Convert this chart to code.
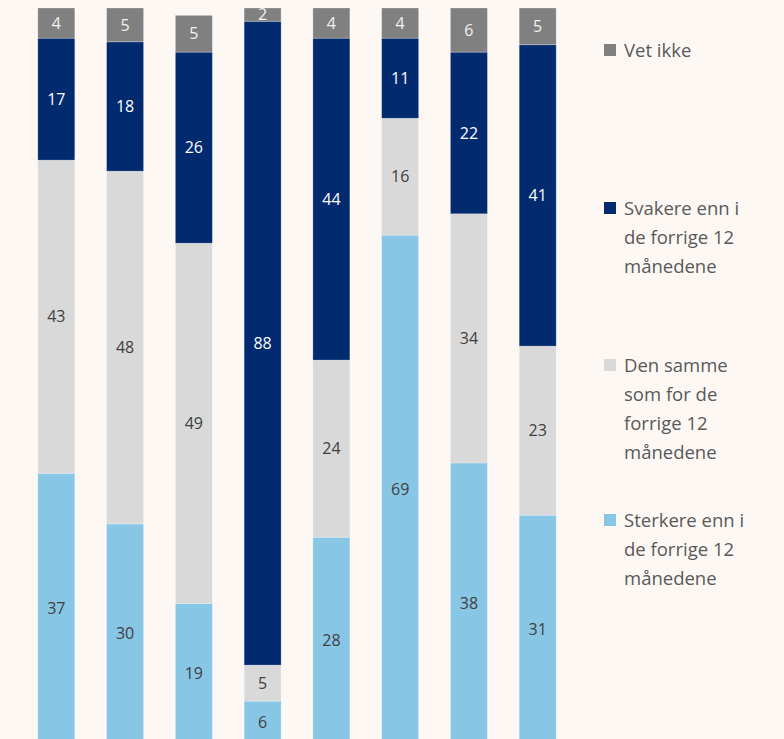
<!DOCTYPE html>
<html>
<head>
<meta charset="utf-8">
<script src="https://cdn.jsdelivr.net/npm/d3@7"></script>
<style>
    html, body {
        margin: 0;
        padding: 0;
        background: #fdf8f4;
    }
    svg {
        display: block;
        font-family: "Open Sans", "Noto Sans", sans-serif;
    }
</style>
</head>
<body>
<div id="chart"></div>
<script>
// one entry per bar, left to right
const bars = ["1", "2", "3", "4", "5", "6", "7", "8"];

// series, bottom to top in the stack (shares in %, labels are rounded)
const sterkere = [36.7, 29.8, 19.0, 5.7, 28.0, 69.1, 38.1, 31.0];
const samme = [42.6, 48.0, 49.0, 4.9, 24.1, 15.9, 33.9, 23.0];
const svakere = [16.6, 17.6, 26.0, 87.6, 43.8, 10.9, 22.0, 41.0];
const vetIkke = [4.1, 4.6, 5.0, 1.8, 4.1, 4.1, 6.0, 5.0];

const seriesKeys = ["sterkere", "samme", "svakere", "vetIkke"];
const seriesColors = {
    sterkere: "#88c6e5",
    samme: "#d9d9d9",
    svakere: "#022a6f",
    vetIkke: "#808080"
};
const labelColors = {
    sterkere: "#404040",
    samme: "#404040",
    svakere: "#ffffff",
    vetIkke: "#f2f2f2"
};

// legend, top to bottom
const legendItems = [
    {key: "vetIkke", lines: ["Vet ikke"]},
    {key: "svakere", lines: ["Svakere enn i", "de forrige 12", "månedene"]},
    {key: "samme", lines: ["Den samme", "som for de", "forrige 12", "månedene"]},
    {key: "sterkere", lines: ["Sterkere enn i", "de forrige 12", "månedene"]}
];

const width = 784,
    height = 739,
    margin = {top: 8, right: 200, bottom: -4, left: 20};

const data = bars.map((b, i) => ({
    bar: b,
    sterkere: sterkere[i],
    samme: samme[i],
    svakere: svakere[i],
    vetIkke: vetIkke[i]
}));

const stacked = d3.stack().keys(seriesKeys)(data);

const xScale = d3
    .scaleBand()
    .domain(bars)
    .range([22, 572])
    .paddingInner(0.462)
    .paddingOuter(0.23);

const yScale = d3
    .scaleLinear()
    .domain([0, 100])
    .range([height - margin.bottom, margin.top]);

const fmt = d3.format(".0f");

const svg = d3
    .select("#chart")
    .append("svg")
    .attr("width", width)
    .attr("height", height)
    .attr("viewBox", [0, 0, width, height]);

svg.append("rect")
    .attr("width", width)
    .attr("height", height)
    .attr("fill", "#fdf8f4");

const layer = svg
    .selectAll("g.layer")
    .data(stacked)
    .join("g")
    .attr("class", "layer")
    .attr("fill", (d) => seriesColors[d.key]);

layer
    .selectAll("rect")
    .data((d) => d)
    .join("rect")
    .attr("x", (d) => xScale(d.data.bar))
    .attr("y", (d) => yScale(d[1]))
    .attr("width", xScale.bandwidth())
    .attr("height", (d) => yScale(d[0]) - yScale(d[1]))
    .attr("stroke", "#ffffff")
    .attr("stroke-opacity", 0.35)
    .attr("stroke-width", 0.75);

// value labels in the middle of each segment
stacked.forEach((s) => {
    svg.append("g")
        .selectAll("text")
        .data(s)
        .join("text")
        .attr("x", (d) => xScale(d.data.bar) + xScale.bandwidth() / 2)
        .attr("y", (d) => (yScale(d[0]) + yScale(d[1])) / 2)
        .attr("dy", "0.36em")
        .attr("text-anchor", "middle")
        .attr("font-size", 16)
        .attr("fill", labelColors[s.key])
        .text((d) => fmt(d.data[s.key]));
});

// legend
const legendTop = [50, 208, 365, 520];
const lineHeight = 29;

const legend = svg
    .append("g")
    .selectAll("g")
    .data(legendItems)
    .join("g")
    .attr("transform", (d, i) => `translate(604,${legendTop[i]})`);

legend
    .append("rect")
    .attr("x", 0)
    .attr("y", -6)
    .attr("width", 12)
    .attr("height", 12)
    .attr("fill", (d) => seriesColors[d.key]);

legend
    .append("text")
    .attr("fill", "#595959")
    .attr("font-size", 18.5)
    .selectAll("tspan")
    .data((d) => d.lines)
    .join("tspan")
    .attr("x", 20)
    .attr("y", (d, i) => i * lineHeight)
    .attr("dy", "0.36em")
    .text((d) => d);
</script>
</body>
</html>
